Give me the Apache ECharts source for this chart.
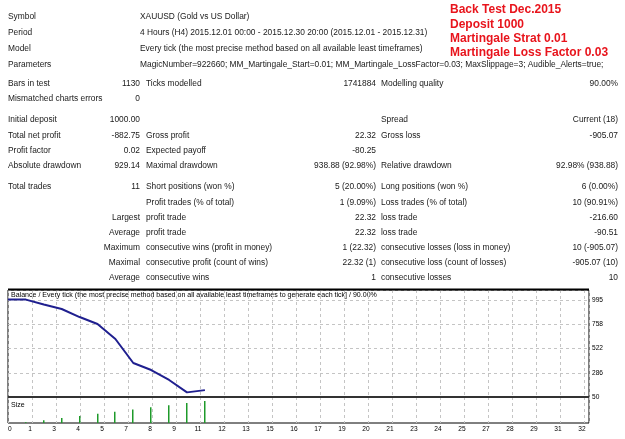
<!DOCTYPE html>
<html>
<head>
<meta charset="utf-8">
<script src="https://cdn.jsdelivr.net/npm/echarts@6/dist/echarts.min.js"></script>
<style>
html, body { margin: 0; padding: 0; background: #fff; }
#chart { width: 625px; height: 439px; }
</style>
</head>
<body>
<div id="chart"></div>
<script>
// balance after each trade, trade 0 = initial deposit
const trades = [0, 1, 2, 3, 4, 5, 6, 7, 8, 9, 10, 11]
const balance = [1000, 999, 951, 907, 829, 761, 615, 381, 313, 216, 95, 117]
// lot size per trade
const sizeTrades = [1, 2, 3, 4, 5, 6, 7, 8, 9, 10, 11]
const lots = [0.01, 0.04, 0.07, 0.10, 0.13, 0.16, 0.19, 0.22, 0.25, 0.28, 0.31]
const xTickLabels = ['0', '1', '3', '4', '5', '7', '8', '9', '11', '12', '13', '15', '16',
  '17', '19', '20', '21', '23', '24', '25', '27', '28', '29', '31', '32']
const yTickLabels = ['50', '286', '522', '758', '995']

const headerRows = [
  ['Symbol', 'XAUUSD (Gold vs US Dollar)'],
  ['Period', '4 Hours (H4) 2015.12.01 00:00 - 2015.12.30 20:00 (2015.12.01 - 2015.12.31)'],
  ['Model', 'Every tick (the most precise method based on all available least timeframes)'],
  ['Parameters', 'MagicNumber=922660; MM_Martingale_Start=0.01; MM_Martingale_LossFactor=0.03; MaxSlippage=3; Audible_Alerts=true;']
]
const statRows = [
  ['Bars in test', '1130', 'Ticks modelled', '1741884', 'Modelling quality', '90.00%'],
  ['Mismatched charts errors', '0', '', '', '', ''],
  ['Initial deposit', '1000.00', '', '', 'Spread', 'Current (18)'],
  ['Total net profit', '-882.75', 'Gross profit', '22.32', 'Gross loss', '-905.07'],
  ['Profit factor', '0.02', 'Expected payoff', '-80.25', '', ''],
  ['Absolute drawdown', '929.14', 'Maximal drawdown', '938.88 (92.98%)', 'Relative drawdown', '92.98% (938.88)'],
  ['Total trades', '11', 'Short positions (won %)', '5 (20.00%)', 'Long positions (won %)', '6 (0.00%)'],
  ['', '', 'Profit trades (% of total)', '1 (9.09%)', 'Loss trades (% of total)', '10 (90.91%)'],
  ['', 'Largest', 'profit trade', '22.32', 'loss trade', '-216.60'],
  ['', 'Average', 'profit trade', '22.32', 'loss trade', '-90.51'],
  ['', 'Maximum', 'consecutive wins (profit in money)', '1 (22.32)', 'consecutive losses (loss in money)', '10 (-905.07)'],
  ['', 'Maximal', 'consecutive profit (count of wins)', '22.32 (1)', 'consecutive loss (count of losses)', '-905.07 (10)'],
  ['', 'Average', 'consecutive wins', '1', 'consecutive losses', '10']
]
const notes = ['Back Test Dec.2015', 'Deposit 1000', 'Martingale Strat 0.01', 'Martingale Loss Factor 0.03']
const balanceTitle = 'Balance / Every tick (the most precise method based on all available least timeframes to generate each tick] / 90.00%'

// layout
const headerY = [17, 33, 49, 65]
const statY = [84, 99, 120, 136, 151, 166, 187, 203, 218, 233, 248, 263, 278]
const noteY = [10, 24.5, 38.8, 53]
const FONT = 'Liberation Sans, Arial, sans-serif'
const PX = 17.9 // pixels per trade
const X_STEP = 24 / PX
const X_MAX = 581 / PX
const Y_MIN = 50, Y_STEP = 236.25
const Y_MAX = Y_MIN + Y_STEP * 107 / 24.25

function txt(text, x, y, align, size, extra) {
  return {
    type: 'text', silent: true,
    style: Object.assign({
      text: text, x: x, y: y, align: align || 'left', verticalAlign: 'middle',
      fontSize: size || 8.4, fontFamily: FONT, fill: '#1a1a1a'
    }, extra || {})
  }
}

let graphics = []
headerRows.forEach((r, i) => {
  graphics.push(txt(r[0], 8, headerY[i]))
  graphics.push(txt(r[1], 140, headerY[i]))
})
statRows.forEach((r, i) => {
  let y = statY[i]
  if (r[0]) graphics.push(txt(r[0], 8, y))
  if (r[1]) graphics.push(txt(r[1], 140, y, 'right'))
  if (r[2]) graphics.push(txt(r[2], 146, y))
  if (r[3]) graphics.push(txt(r[3], 376, y, 'right'))
  if (r[4]) graphics.push(txt(r[4], 381, y))
  if (r[5]) graphics.push(txt(r[5], 618, y, 'right'))
})
notes.forEach((n, i) => {
  graphics.push(txt(n, 450, noteY[i], 'left', 12, { fontWeight: 'bold', fill: '#e8141c' }))
})
graphics.push(txt(balanceTitle, 11, 295, 'left', 7.05, { fill: '#000' }))
graphics.push(txt('Size', 11, 405, 'left', 7.05, { fill: '#000' }))
graphics.push({ type: 'line', silent: true, z: 10, shape: { x1: 8, y1: 289.5, x2: 589, y2: 289.5 }, style: { stroke: '#000', lineWidth: 2 } })
graphics.push({ type: 'line', silent: true, z: 10, shape: { x1: 8, y1: 397, x2: 589, y2: 397 }, style: { stroke: '#333', lineWidth: 2 } })

const chart = echarts.init(document.getElementById('chart'))

const vSplit = { show: true, lineStyle: { color: '#c4c4c4', type: [3, 3], width: 1 } }

chart.setOption({
  animation: false,
  textStyle: { fontFamily: FONT },
  grid: [
    { left: 8, top: 290, width: 581, height: 107, show: true, borderColor: '#000', borderWidth: 1, containLabel: false },
    { left: 8, top: 397, width: 581, height: 26, show: true, borderColor: '#000', borderWidth: 1, containLabel: false }
  ],
  xAxis: [
    {
      type: 'value', gridIndex: 0, min: 0, max: X_MAX, interval: X_STEP,
      axisLabel: { show: false }, axisLine: { show: false }, axisTick: { show: false },
      splitLine: vSplit
    },
    {
      type: 'value', gridIndex: 1, min: 0, max: X_MAX, interval: X_STEP,
      axisLine: { show: false }, axisTick: { show: false },
      splitLine: vSplit,
      axisLabel: {
        margin: 3, fontSize: 6.6, color: '#000', showMaxLabel: false, padding: [0, 4, 0, 0],
        alignMinLabel: 'left',
        formatter: v => xTickLabels[Math.round(v / X_STEP)] || ''
      }
    }
  ],
  yAxis: [
    {
      type: 'value', gridIndex: 0, position: 'right', min: Y_MIN, max: Y_MAX, interval: Y_STEP,
      axisLine: { show: false }, axisTick: { show: false },
      splitLine: { show: true, lineStyle: { color: '#c4c4c4', type: [3, 3], width: 1 } },
      axisLabel: {
        margin: 3, fontSize: 6.6, color: '#000', showMaxLabel: false,
        formatter: v => yTickLabels[Math.round((v - Y_MIN) / Y_STEP)] || ''
      }
    },
    {
      type: 'value', gridIndex: 1, min: 0, max: 0.366,
      axisLine: { show: false }, axisTick: { show: false }, axisLabel: { show: false },
      splitLine: { show: false }
    }
  ],
  series: [
    {
      type: 'line', xAxisIndex: 0, yAxisIndex: 0,
      data: trades.map((t, i) => [t, balance[i]]),
      symbol: 'none', lineStyle: { color: '#1f1f8f', width: 2 }, z: 5
    },
    {
      type: 'custom', xAxisIndex: 1, yAxisIndex: 1,
      data: sizeTrades.map((t, i) => [t, lots[i]]),
      renderItem: function (params, api) {
        let top = api.coord([api.value(0), api.value(1)])
        let base = api.coord([api.value(0), 0])
        let x = Math.round(top[0]) - 1
        return {
          type: 'rect',
          shape: { x: x, y: top[1], width: 1.5, height: base[1] - top[1] },
          style: { fill: '#1e9a2a' }
        }
      }
    }
  ],
  graphic: graphics
})
</script>
</body>
</html>
